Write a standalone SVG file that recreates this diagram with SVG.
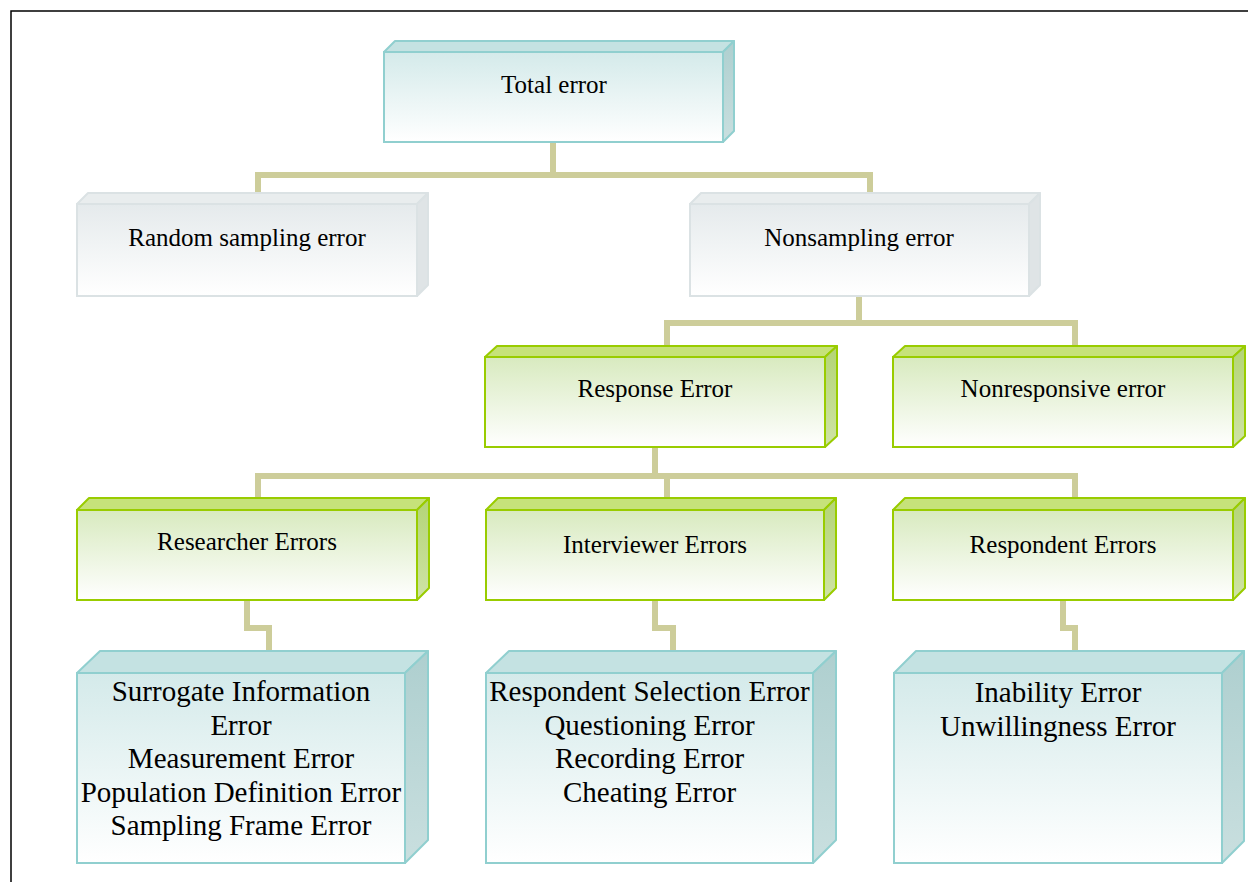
<svg xmlns="http://www.w3.org/2000/svg" width="1248" height="882" viewBox="0 0 1248 882">
  <style>
    text { font-family: "Liberation Serif", "Times New Roman", serif; fill: #000; text-anchor: middle; }
    .t1 { font-size: 25px; }
    .t2 { font-size: 29px; }
    .conn { fill: none; stroke: #cdcd9a; stroke-width: 6; stroke-linejoin: miter; }
    .teal .front { fill: url(#gTeal); stroke: #90cfcf; stroke-width: 2; }
    .teal .top { fill: #c4e2e2; stroke: #90cfcf; stroke-width: 2; stroke-linejoin: round; }
    .teal .side { fill: url(#gTealSide); stroke: #90cfcf; stroke-width: 2; stroke-linejoin: round; }
    .gray .front { fill: url(#gGray); stroke: #dbe2e4; stroke-width: 2; }
    .gray .top { fill: #e9edee; stroke: #dbe2e4; stroke-width: 2; stroke-linejoin: round; }
    .gray .side { fill: #dfe4e6; stroke: #dbe2e4; stroke-width: 2; stroke-linejoin: round; }
    .green .front { fill: url(#gGreen); stroke: #99cc00; stroke-width: 2; }
    .green .top { fill: #c6e27a; stroke: #99cc00; stroke-width: 2; stroke-linejoin: round; }
    .green .side { fill: url(#gGreenSide); stroke: #99cc00; stroke-width: 2; stroke-linejoin: round; }
  </style>
  <defs>
    <linearGradient id="gTeal" x1="0" y1="0" x2="0" y2="1">
      <stop offset="0" stop-color="#d4eaea"/>
      <stop offset="1" stop-color="#ffffff"/>
    </linearGradient>
    <linearGradient id="gTealSide" x1="0" y1="0" x2="0" y2="1">
      <stop offset="0" stop-color="#aecfcf"/>
      <stop offset="1" stop-color="#c9dfdf"/>
    </linearGradient>
    <linearGradient id="gGray" x1="0" y1="0" x2="0" y2="1">
      <stop offset="0" stop-color="#e5eaec"/>
      <stop offset="1" stop-color="#ffffff"/>
    </linearGradient>
    <linearGradient id="gGreen" x1="0" y1="0" x2="0" y2="1">
      <stop offset="0" stop-color="#d8eabf"/>
      <stop offset="1" stop-color="#ffffff"/>
    </linearGradient>
    <linearGradient id="gGreenSide" x1="0" y1="0" x2="0" y2="1">
      <stop offset="0" stop-color="#b3d476"/>
      <stop offset="1" stop-color="#cfe3a6"/>
    </linearGradient>
  </defs>

  <rect x="0" y="0" width="1248" height="882" fill="#ffffff"/>
  <!-- page frame -->
  <path d="M11,882 V11 H1248" fill="none" stroke="#000" stroke-width="1.5"/>

  <g id="connectors">
    <path class="conn" d="M553,142 V175 H258 V193"/>
    <path class="conn" d="M553,142 V175 H870 V193"/>
    <path class="conn" d="M859,296 V323 H667 V346"/>
    <path class="conn" d="M859,296 V323 H1075 V346"/>
    <path class="conn" d="M655,447 V476 H258 V498"/>
    <path class="conn" d="M655,447 V476 H667 V498"/>
    <path class="conn" d="M655,447 V476 H1075 V498"/>
    <path class="conn" d="M247,600 V628 H269 V651"/>
    <path class="conn" d="M655,600 V628 H673 V651"/>
    <path class="conn" d="M1063,600 V628 H1075 V651"/>
  </g>

  <g id="total-error" class="teal">
    <polygon class="top" points="384,52 395,41 734,41 723,52"/>
    <polygon class="side" points="723,52 734,41 734,131 723,142"/>
    <rect class="front" x="384" y="52" width="339" height="90"/>
    <text class="t1" x="554" y="93">Total error</text>
  </g>

  <g id="random-sampling-error" class="gray">
    <polygon class="top" points="77,204 88,193 428,193 417,204"/>
    <polygon class="side" points="417,204 428,193 428,285 417,296"/>
    <rect class="front" x="77" y="204" width="340" height="92"/>
    <text class="t1" x="247" y="246">Random sampling error</text>
  </g>

  <g id="nonsampling-error" class="gray">
    <polygon class="top" points="690,204 701,193 1040,193 1029,204"/>
    <polygon class="side" points="1029,204 1040,193 1040,285 1029,296"/>
    <rect class="front" x="690" y="204" width="339" height="92"/>
    <text class="t1" x="859" y="246">Nonsampling error</text>
  </g>

  <g id="response-error" class="green">
    <polygon class="top" points="485,357 497,346 837,346 825,357"/>
    <polygon class="side" points="825,357 837,346 837,436 825,447"/>
    <rect class="front" x="485" y="357" width="340" height="90"/>
    <text class="t1" x="655" y="397">Response Error</text>
  </g>

  <g id="nonresponsive-error" class="green">
    <polygon class="top" points="893,357 905,346 1245,346 1233,357"/>
    <polygon class="side" points="1233,357 1245,346 1245,436 1233,447"/>
    <rect class="front" x="893" y="357" width="340" height="90"/>
    <text class="t1" x="1063" y="397">Nonresponsive error</text>
  </g>

  <g id="researcher-errors" class="green">
    <polygon class="top" points="77,510 89,498 429,498 417,510"/>
    <polygon class="side" points="417,510 429,498 429,588 417,600"/>
    <rect class="front" x="77" y="510" width="340" height="90"/>
    <text class="t1" x="247" y="550">Researcher Errors</text>
  </g>

  <g id="interviewer-errors" class="green">
    <polygon class="top" points="486,510 498,498 836,498 824,510"/>
    <polygon class="side" points="824,510 836,498 836,588 824,600"/>
    <rect class="front" x="486" y="510" width="338" height="90"/>
    <text class="t1" x="655" y="553">Interviewer Errors</text>
  </g>

  <g id="respondent-errors" class="green">
    <polygon class="top" points="893,510 905,498 1245,498 1233,510"/>
    <polygon class="side" points="1233,510 1245,498 1245,588 1233,600"/>
    <rect class="front" x="893" y="510" width="340" height="90"/>
    <text class="t1" x="1063" y="553">Respondent Errors</text>
  </g>

  <g id="researcher-error-types" class="teal">
    <polygon class="top" points="77,673 100,651 428,651 405,673"/>
    <polygon class="side" points="405,673 428,651 428,840 405,863"/>
    <rect class="front" x="77" y="673" width="328" height="190"/>
    <text class="t2" x="241" y="701">Surrogate Information</text>
    <text class="t2" x="241" y="735">Error</text>
    <text class="t2" x="241" y="768">Measurement Error</text>
    <text class="t2" x="241" y="802">Population Definition Error</text>
    <text class="t2" x="241" y="835">Sampling Frame Error</text>
  </g>

  <g id="interviewer-error-types" class="teal">
    <polygon class="top" points="486,673 509,651 836,651 813,673"/>
    <polygon class="side" points="813,673 836,651 836,840 813,863"/>
    <rect class="front" x="486" y="673" width="327" height="190"/>
    <text class="t2" x="649.5" y="701">Respondent Selection Error</text>
    <text class="t2" x="649.5" y="735">Questioning Error</text>
    <text class="t2" x="649.5" y="768">Recording Error</text>
    <text class="t2" x="649.5" y="802">Cheating Error</text>
  </g>

  <g id="respondent-error-types" class="teal">
    <polygon class="top" points="894,673 916,651 1244,651 1222,673"/>
    <polygon class="side" points="1222,673 1244,651 1244,841 1222,863"/>
    <rect class="front" x="894" y="673" width="328" height="190"/>
    <text class="t2" x="1058" y="702">Inability Error</text>
    <text class="t2" x="1058" y="736">Unwillingness Error</text>
  </g>
</svg>
